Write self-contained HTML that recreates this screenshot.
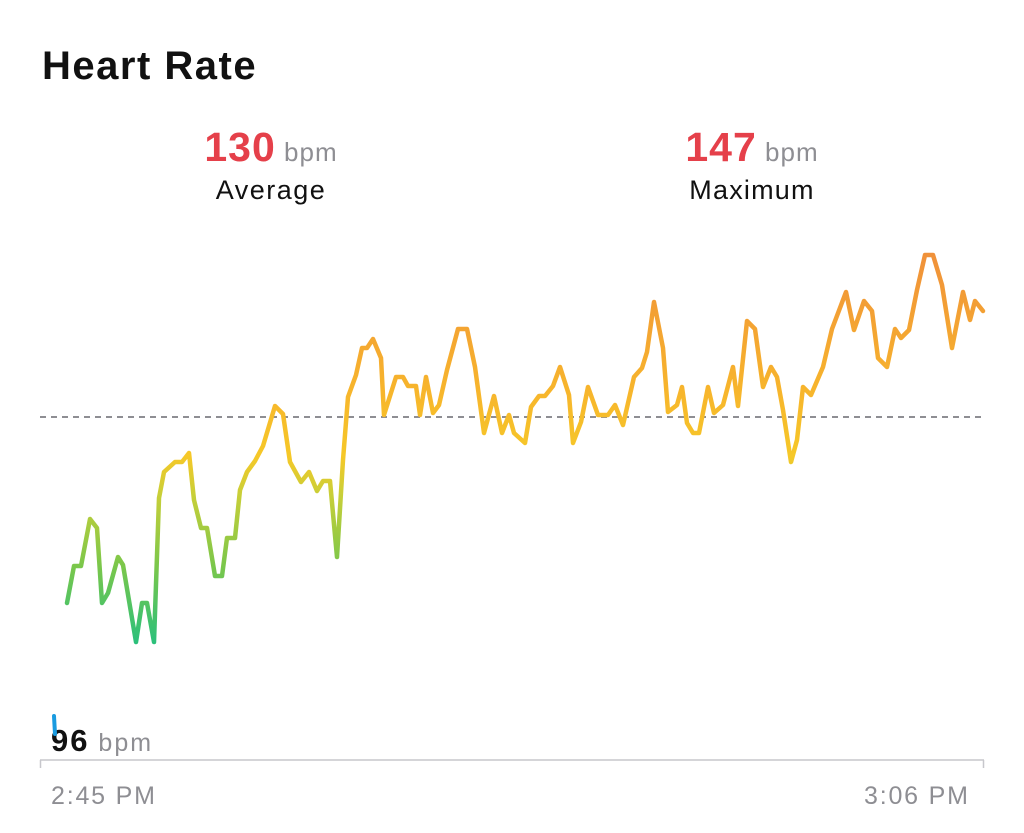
<!DOCTYPE html>
<html><head><meta charset="utf-8"><style>
html,body{margin:0;padding:0;background:#fff;}
body{width:1024px;height:833px;position:relative;overflow:hidden;font-family:"Liberation Sans",sans-serif;}
.t{position:absolute;white-space:nowrap;}
</style></head><body>
<div class="t" style="left:42px;top:44px;font-size:40px;font-weight:bold;color:#111;letter-spacing:1.5px;">Heart Rate</div>
<div class="t" style="left:171px;width:200px;text-align:center;top:124px;letter-spacing:1px;"><span style="font-size:41px;font-weight:bold;color:#e5404a;">130</span><span style="font-size:26px;color:#8e8e93;"> bpm</span></div>
<div class="t" style="left:171px;width:200px;text-align:center;top:175px;font-size:27px;color:#111;letter-spacing:1.5px;">Average</div>
<div class="t" style="left:652px;width:200px;text-align:center;top:124px;letter-spacing:1px;"><span style="font-size:41px;font-weight:bold;color:#e5404a;">147</span><span style="font-size:26px;color:#8e8e93;"> bpm</span></div>
<div class="t" style="left:652px;width:200px;text-align:center;top:175px;font-size:27px;color:#111;letter-spacing:1.2px;">Maximum</div>
<div class="t" style="left:51px;top:723px;letter-spacing:2px;"><span style="font-size:31px;font-weight:bold;color:#111;">96</span><span style="font-size:25px;color:#8e8e93;"> bpm</span></div>
<div class="t" style="left:51px;top:782px;font-size:25px;color:#8e8e93;letter-spacing:1.8px;">2:45 PM</div>
<div class="t" style="left:864px;top:782px;font-size:25px;color:#8e8e93;letter-spacing:1.8px;">3:06 PM</div>
<svg width="1024" height="833" style="position:absolute;left:0;top:0">
<defs><linearGradient id="g" gradientUnits="userSpaceOnUse" x1="0" y1="255" x2="0" y2="642">
<stop offset="0" stop-color="#f0913a"/><stop offset="0.35" stop-color="#f7b52c"/><stop offset="0.52" stop-color="#f6c828"/><stop offset="0.62" stop-color="#c8cf38"/><stop offset="0.8" stop-color="#7cc74a"/><stop offset="1" stop-color="#2cc07a"/></linearGradient></defs>
<line x1="40" y1="417" x2="985" y2="417" stroke="#8e8e93" stroke-width="2" stroke-dasharray="6,5"/>
<line x1="40" y1="760" x2="984" y2="760" stroke="#c7c7cc" stroke-width="1.5"/>
<line x1="40.5" y1="760" x2="40.5" y2="768" stroke="#c7c7cc" stroke-width="1.5"/>
<line x1="983.5" y1="760" x2="983.5" y2="768" stroke="#c7c7cc" stroke-width="1.5"/>
<line x1="54" y1="716" x2="55" y2="734" stroke="#1a9be0" stroke-width="4" stroke-linecap="round"/>
<polyline fill="none" stroke="url(#g)" stroke-width="4.5" stroke-linejoin="round" stroke-linecap="round" points="67,603 74,566 81,566 90,519 97,528 102,603 108,593 118,557 123,565 136,642 142,603 147,603 154,642 159,498 164,472 175,462 182,462 189,453 194,500 201,528 207,528 215,576 222,576 227,538 235,538 240,490 247,472 255,461 263,446 275,406 283,414 290,462 301,482 309,472 317,491 323,481 330,481 337,557 343,460 348,397 356,375 362,348 367,348 373,339 381,358 384,415 396,377 403,377 408,386 416,386 420,415 426,377 433,413 439,405 447,370 458,329 467,329 475,367 484,433 494,396 502,433 509,415 514,433 525,443 531,407 539,396 545,396 553,386 560,367 569,395 573,443 581,422 588,387 598,415 608,415 615,405 623,425 634,377 642,368 647,352 654,302 663,348 668,412 677,405 682,387 687,423 693,433 699,433 708,387 714,413 723,405 733,367 738,406 747,321 755,329 763,387 771,367 777,377 783,410 791,462 797,440 803,387 811,395 823,367 832,329 846,292 854,330 864,301 872,311 878,358 887,367 895,329 901,338 909,330 917,290 925,255 933,255 942,285 952,348 963,292 970,320 975,301 983,311"/>
</svg>
</body></html>
